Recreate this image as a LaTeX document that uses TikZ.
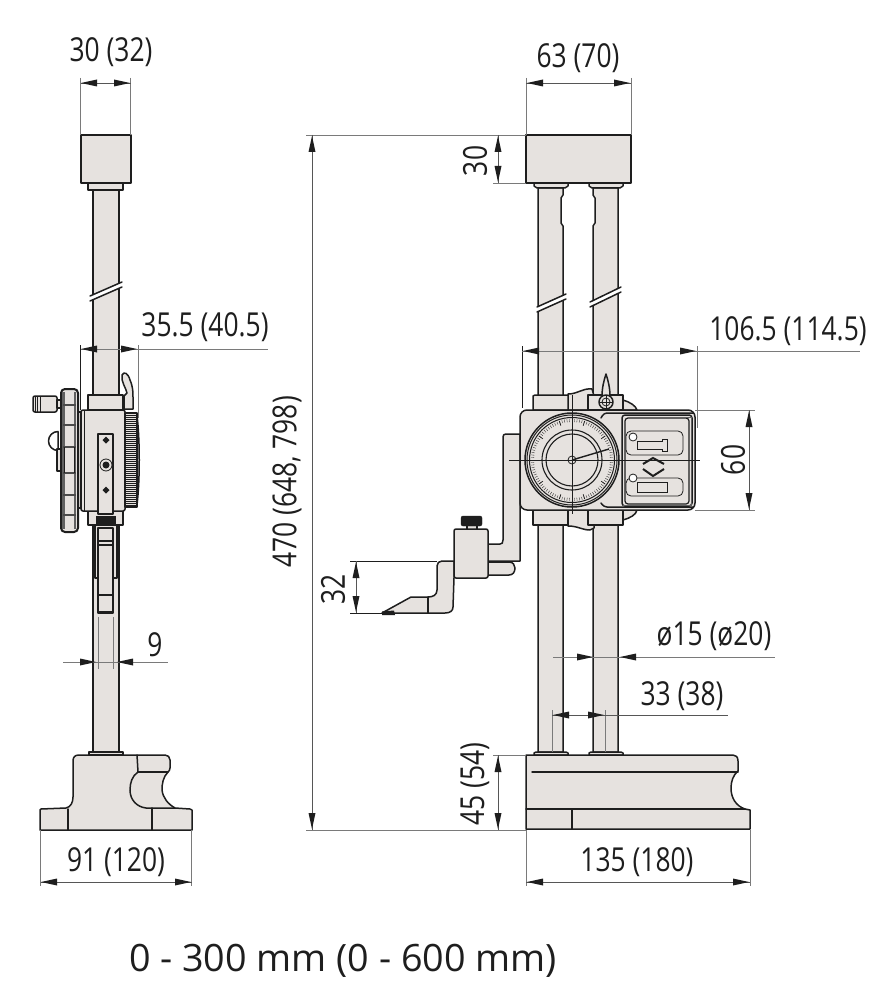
\documentclass[tikz,border=0pt]{standalone}
\usepackage{fontspec}
\setmainfont{Open Sans}
\newfontfamily\dimfont[FakeStretch=0.8]{Open Sans}
\usetikzlibrary{arrows.meta}
\definecolor{bodyfill}{HTML}{E6E2DF}
\definecolor{ink}{HTML}{1E1E1E}
\definecolor{extgray}{HTML}{7A7A7A}
\tikzset{
  ol/.style={draw=ink,line width=1.5pt,fill=bodyfill,line join=round},
  ln/.style={draw=ink,line width=1.5pt,line cap=round},
  fine/.style={draw=ink,line width=0.8pt},
  ext/.style={draw=extgray,line width=0.9pt},
  dimline/.style={draw=ink!75,line width=0.8pt},
  tip/.style={fill=ink,draw=none},
  dimtext/.style={font=\dimfont\fontsize{33}{36}\selectfont,text=ink,inner sep=0pt},
}
\newcommand\breakmark[4]{%
  \fill[white] (#1,#2)--(#3,#4)--(#3,#4+5)--(#1,#2+5)--cycle;
  \draw[ln] (#1,#2)--(#3,#4);
  \draw[ln] (#1,#2+5)--(#3,#4+5);}
% arrow tip at (x,y), direction dx=+1/-1 (pointing right/left)
\newcommand\htip[3]{\fill[tip] (#1,#2)--(#1-#3*16,#2-3.5)--(#1-#3*16,#2+3.5)--cycle;}
\newcommand\vtip[3]{\fill[tip] (#1,#2)--(#1-3.5,#2-#3*16)--(#1+3.5,#2-#3*16)--cycle;}
\begin{document}
\begin{tikzpicture}[x=1pt,y=-1pt]
\useasboundingbox (0,0) rectangle (890,1000);
\fill[white] (0,0) rectangle (890,1000);

%% ---------- LEFT VIEW ----------
% column
\draw[ol] (93,190) rectangle (119,753);
\breakmark{90}{296}{122}{282}
% cap
\draw[ol] (88,183) rectangle (123,190);
\draw[ol] (81,135) rectangle (131,183);
% base
\draw[ol] (89,755) -- (89,752) -- (123,752) -- (123,755) -- cycle;
\draw[ol] (40,830) -- (40,810) -- (41,809) -- (66,808)
  .. controls (71,807) and (73,802) .. (73,797) -- (73,761)
  .. controls (73,757) and (75,755) .. (79,755) -- (165,755)
  .. controls (168,755) and (170,757) .. (170,760) -- (170,768)
  .. controls (170,770) and (169,771) .. (168,772)
  .. controls (163,777) and (162,784) .. (162,790)
  .. controls (163,798) and (168,804) .. (175,808) -- (190,809) -- (192,810) -- (192,830) -- cycle;
\draw[ln] (137,755) -- (138,772);
\draw[ln] (138,772) -- (168,772);
\draw[ln] (138,772) .. controls (132,776) and (130,783) .. (130,790)
  .. controls (130,800) and (137,807) .. (146,808) -- (175,808);
\draw[ln] (68,809) -- (68,830);
\draw[ln] (152,808) -- (152,830);
% lower arm
\draw[ol] (95,525) -- (117,525) -- (117,578) -- (95,578) -- cycle;
\draw[ol] (98,528) -- (113,528) -- (113,613) -- (98,613) -- cycle;
\draw[ln] (98,541) -- (113,541);
\draw[ln] (98,545) -- (113,545);
\draw[ln] (99,612) -- (112,612);
\draw[ln] (99,595) -- (112,595);
% slider
\draw[ol] (88,395) -- (123,395) -- (123,410) -- (88,410) -- cycle;
\draw[ol] (88,511) -- (123,511) -- (123,525) -- (88,525) -- cycle;
\draw[ol,rounded corners=2pt] (81,410) rectangle (125,511);
\draw[fine] (84,410) -- (84,511);
\draw[ol] (98,434) rectangle (113,514);
\fill[ink] (96,516) rectangle (116,525);
\foreach \yy in {440,490}{\fill[ink] (106,\yy-3.5) -- (109.5,\yy) -- (106,\yy+3.5) -- (102.5,\yy) -- cycle;}
\draw[fine,fill=bodyfill] (106,465) circle[radius=6];
\fill[ink] (106,465) circle[radius=3.5];
% lever
\draw[ol] (122,375) .. controls (124,371) and (128,373) .. (130,380)
  .. controls (133,387) and (133,392) .. (133,397) -- (133,409) -- (124,409) -- (124,396)
  -- (127,393) .. controls (126,388) and (121,382) .. (122,375) -- cycle;
% knurled dial
\draw[ol] (137,415) .. controls (140,440) and (140,480) .. (137,505) -- cycle;
\draw[ol] (125,413) rectangle (137,507);
\foreach \yy in {415,417,...,506}{\draw[draw=ink,line width=0.9pt] (125,\yy) -- (137,\yy);}
% hand wheel
\draw[ol,rounded corners=2pt] (33,396) rectangle (57,412);
\foreach \xx in {35,37.5,40}{\draw[draw=ink,line width=1pt] (\xx,396) -- (\xx,412);}
\draw[ol] (57,400) rectangle (61,408);
\draw[ol,fill=white] (58,450.5) arc[start angle=90,end angle=270,radius=9.5] -- cycle;
\draw[ol] (57,449) rectangle (61,471);
\draw[ol] (78,412) rectangle (81,508);
\draw[draw=ink,fill=bodyfill,line width=2pt,rounded corners=4pt] (61,389) rectangle (78,532);
\draw[draw=ink!70,line width=3pt] (63,392) -- (63,529);
\draw[draw=ink!70,line width=1.5pt] (75,392) -- (75,529);
\foreach \yy in {405,425,447,473,495,515}{\draw[draw=ink!80,line width=2pt] (63,\yy) -- (76,\yy);}
\draw[fine] (64,447) -- (64,473);
\draw[fine] (74,447) -- (74,473);

%% ---------- RIGHT VIEW ----------
% columns
\draw[ol] (538,188) -- (538,752) -- (563,752) -- (563,226) -- (561,223) -- (561,198) -- (563,195) -- (563,188) -- cycle;
\draw[ol] (593,188) -- (593,195) -- (595,198) -- (595,223) -- (593,226) -- (593,752) -- (618,752) -- (618,188) -- cycle;
\breakmark{537}{307}{566}{294}
\breakmark{590}{302}{621}{287}
\draw[ol] (534,183) -- (568,183) -- (568,186) -- (565,188) -- (537,188) -- (534,186) -- cycle;
\draw[ol] (589,183) -- (623,183) -- (623,186) -- (620,188) -- (592,188) -- (589,186) -- cycle;
\draw[ol] (526,135) rectangle (631,183);
% base
\draw[ol] (534,755) -- (534,753) -- (536,752) -- (566,752) -- (568,753) -- (568,755) -- cycle;
\draw[ol] (589,755) -- (589,753) -- (591,752) -- (621,752) -- (623,753) -- (623,755) -- cycle;
\draw[ol] (526,829) -- (526,755) -- (733,755)
  .. controls (736,755) and (738,757) .. (738,761) -- (738,771)
  .. controls (733,775) and (731,782) .. (731,788)
  .. controls (731,798) and (736,806) .. (745,809) -- (750,810) -- (750,829) -- cycle;
\draw[ln] (532,772) -- (738,772);
\draw[ln] (526,809) -- (745,809);
\draw[ln] (572,809) -- (572,829);
% holder arm
\draw[ol] (520,434) -- (506,434) .. controls (504,434) and (503,435) .. (503,437) -- (503,540)
  .. controls (503,543) and (502,544) .. (500,544) -- (488,544) -- (488,561) -- (520,561) -- cycle;
\draw[ol] (488,562) -- (509,562) .. controls (513,562) and (515,565) .. (515,568)
  .. controls (515,572) and (513,575) .. (509,575) -- (488,575) -- cycle;
% scriber
\draw[ol] (454,561) -- (442,561) .. controls (439,561) and (437,563) .. (437,566) -- (437,590)
  .. controls (437,595) and (433,597) .. (428,597) -- (411,597) -- (382,613) -- (445,613)
  .. controls (450,613) and (453,611) .. (453,607) -- (454,578) -- cycle;
\draw[ln] (428,597) -- (428,613);
\fill[ink] (382,611.5) -- (394,610.5) -- (395,615) -- (382,615) -- cycle;
% clamp block and knob
\draw[ol] (467,524) rectangle (477,531);
\draw[fill=ink,draw=ink,rounded corners=2pt] (461,516) rectangle (482,526);
\draw[ol,rounded corners=2pt] (454,529) rectangle (488,578);
% slider collars
\draw[ol] (568,394) .. controls (578,394) and (582,388) .. (592,389) -- (594,396) -- (594,410) -- (568,410) -- cycle;
\draw[ol] (568,510) -- (594,510) -- (594,528) -- (590,530) .. controls (582,530) and (578,526) .. (568,526) -- cycle;
\draw[ol] (623,400) .. controls (630,402) and (636,406) .. (637,410) -- (623,410) -- cycle;
\draw[ol] (623,510) -- (637,510) .. controls (636,515) and (630,518) .. (623,520) -- cycle;
\draw[ol] (533,396) -- (535,395) -- (568,395) -- (568,410) -- (533,410) -- cycle;
\draw[ol] (588,395) -- (623,395) -- (623,410) -- (588,410) -- cycle;
\draw[ol] (533,510) rectangle (568,525);
\draw[ol] (588,510) rectangle (623,525);
% scriber pin on top
\draw[ol] (606,374) .. controls (608,380) and (610,388) .. (610,396) -- (602,396) .. controls (602,388) and (604,380) .. (606,374) -- cycle;
\draw[ol] (606,402) circle[radius=7];
\draw[fine] (606,402) circle[radius=4];
\draw[fine] (600,402) -- (612,402) (606,396) -- (606,408);
% slider body
\draw[ol,rounded corners=7pt] (520,410) rectangle (695,510);
% digital panel
\draw[ln,rounded corners=3pt] (601,418) -- (604,413) -- (693,413);
\draw[ln,rounded corners=3pt] (693,507) -- (604,507) -- (601,503);
\draw[ol,rounded corners=3pt] (622,415) rectangle (692,506);
\draw[draw=ink,line width=1.2pt,rounded corners=3pt] (625,418) rectangle (689,504);
\draw[draw=ink!70,line width=1pt] (685,417) -- (691,417) -- (691,505) -- (623,505);
\draw[fine,rounded corners=5pt] (626,431) rectangle (683,455);
\draw[fine,rounded corners=5pt] (626,478) rectangle (683,496);
\draw[fine] (637,441) -- (662,441) -- (662,439) -- (667,439) -- (667,451) -- (662,451) -- (662,449) -- (637,449) -- cycle;
\draw[fine] (637,482) -- (667,482) -- (667,492) -- (637,492) -- cycle;
\draw[fine,fill=white] (633,437) circle[radius=4];
\draw[fine,fill=white] (633,478) circle[radius=4];
\draw[draw=ink,line width=2pt] (643,464) -- (653,458) -- (664,464);
\draw[draw=ink,line width=2pt] (643,469) -- (653,476) -- (664,469);
% dial
\draw[ol] (572,460) circle[radius=47];
\draw[draw=ink,line width=1pt] (572,460) circle[radius=45];
\draw[draw=ink,line width=1pt] (572,460) circle[radius=42.5];
\foreach \a in {0,3.6,...,359}{\draw[draw=ink,line width=0.35pt] ({572+38*cos(\a)},{460+38*sin(\a)}) -- ({572+41*cos(\a)},{460+41*sin(\a)});}
\foreach \a in {0,36,...,359}{\draw[draw=ink,line width=0.7pt] ({572+36*cos(\a)},{460+36*sin(\a)}) -- ({572+41*cos(\a)},{460+41*sin(\a)});}
\draw[draw=ink,line width=1.1pt] (572,460) circle[radius=30];
\draw[draw=ink,line width=1.1pt] (572,460) circle[radius=26];
\draw[draw=ink,line width=1pt] (572,395) -- (572,514);
\draw[draw=ink,line width=1pt] (509,460) -- (700,460);
\draw[draw=ink,line width=1.4pt] (572,460) -- (609,449);
\draw[fine] (572,460) circle[radius=4];

%% ---------- DIMENSIONS ----------
% 30 (32)
\draw[ext] (80.5,78) -- (80.5,135) (130.5,78) -- (130.5,135);
\draw[dimline] (80.5,83) -- (130.5,83);
\htip{81}{83}{-1}\htip{130}{83}{1}
\node[dimtext] (t3032) at (111,52) {30 (32)};
% 63 (70)
\draw[ext] (526,78) -- (526,135) (631,78) -- (631,135);
\draw[dimline] (526,83) -- (631,83);
\htip{527}{83}{-1}\htip{630}{83}{1}
\node[dimtext] (t6370) at (578,58) {63 (70)};
% 470
\draw[ext] (306,135) -- (526,135) (306,830) -- (526,830);
\draw[dimline] (312,135) -- (312,830);
\vtip{312}{136}{-1}\vtip{312}{829}{1}
\node[dimtext,rotate=90] (t470) at (287,482) {470 (648, 798)};
% 30 vertical
\draw[ext] (493,183) -- (526,183);
\draw[dimline] (498,135) -- (498,183);
\vtip{498}{136}{-1}\vtip{498}{182}{1}
\node[dimtext,rotate=90] (t30) at (475,161) {30};
% 35.5
\draw[fine] (80.5,345) -- (80.5,410);
\draw[ext] (138,345) -- (138,418);
\draw[ext] (81,349) -- (268,349);
\htip{81}{349}{-1}\htip{137}{349}{1}
\node[dimtext] (t355) at (205,327) {35.5 (40.5)};
% 106.5
\draw[fine] (522,346) -- (522,408);
\draw[ext] (697,346) -- (697,428);
\draw[ext] (522,351) -- (860,351);
\htip{523}{351}{-1}\htip{696}{351}{1}
\node[dimtext] (t1065) at (788,331) {106.5 (114.5)};
% 60
\draw[ext] (695,410) -- (755,410) (695,510) -- (755,510);
\draw[dimline] (749,410) -- (749,510);
\vtip{749}{411}{-1}\vtip{749}{509}{1}
\node[dimtext,rotate=90] (t60) at (733,460) {60};
% 32
\draw[fine] (350,561) -- (437,561) (350,613) -- (382,613);
\draw[dimline] (356,561) -- (356,613);
\vtip{356}{562}{-1}\vtip{356}{612}{1}
\node[dimtext,rotate=90] (t32) at (333,589) {32};
% 9
\draw[ext] (63,662) -- (168,662);
\draw[ext] (98,617) -- (98,669) (113,617) -- (113,669);
\htip{96}{662}{1}\htip{117}{662}{-1}
\node[dimtext] (t9) at (155,645) {9};
% dia 15
\draw[ext] (553,657) -- (775,657);
\htip{593}{657}{1}\htip{620}{657}{-1}
\node[dimtext] (tdia) at (714,636) {ø15 (ø20)};
% 33
\draw[ext] (552,710) -- (552,752) (605,710) -- (605,752);
\draw[dimline] (552,715) -- (728,715);
\htip{553}{715}{-1}\htip{604}{715}{1}
\node[dimtext] (t33) at (682,696) {33 (38)};
% 45
\draw[ext] (493,755) -- (526,755);
\draw[dimline] (498,755) -- (498,830);
\vtip{498}{756}{-1}\vtip{498}{829}{1}
\node[dimtext,rotate=90] (t45) at (475,784) {45 (54)};
% 91
\draw[ext] (40.5,830) -- (40.5,886) (191.5,830) -- (191.5,886);
\draw[dimline] (40.5,882) -- (191.5,882);
\htip{41}{882}{-1}\htip{191}{882}{1}
\node[dimtext] (t91) at (116,862) {91 (120)};
% 135
\draw[ext] (526,830) -- (526,886) (750,830) -- (750,886);
\draw[dimline] (526,882) -- (750,882);
\htip{527}{882}{-1}\htip{749}{882}{1}
\node[dimtext] (t135) at (637,862) {135 (180)};
% title
\node[font=\fontsize{37.7}{42}\selectfont,text=ink,inner sep=0pt] (title) at (343,961) {0 - 300 mm (0 - 600 mm)};
\end{tikzpicture}
\end{document}
